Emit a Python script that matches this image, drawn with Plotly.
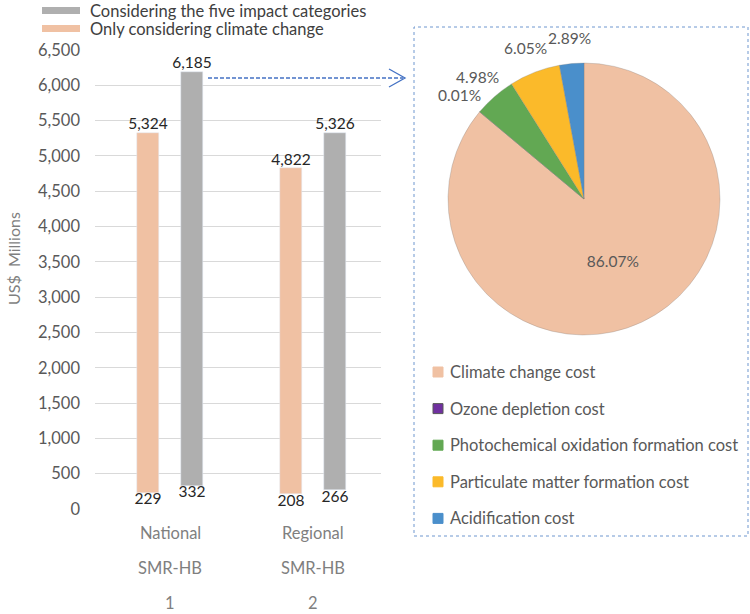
import math
import plotly.graph_objects as go

# bar chart data (US$ millions)
cases = ["National", "Regional"]
case_tech = ["SMR-HB", "SMR-HB"]
case_num = ["1", "2"]
climate_low = [229, 208]
climate_high = [5324, 4822]
five_low = [332, 266]
five_high = [6185, 5326]

# pie data (share of five-category cost, National)
pie_labels = ["Climate change cost", "Ozone depletion cost",
              "Photochemical oxidation formation cost",
              "Particulate matter formation cost", "Acidification cost"]
pie_values = [86.07, 0.01, 4.98, 6.05, 2.89]
pie_text = ["86.07%", "0.01%", "4.98%", "6.05%", "2.89%"]
pie_colors = ["#F0C1A3", "#7030A0", "#62A853", "#FBBA2A", "#4A8FCB"]

ORANGE = "#F0C1A3"
GREY = "#AFAFAF"
FONT = "Lato"
W, H = 750, 614


def px(x):
    return x / W


def py(y):
    return 1 - y / H


def note(text, x, y, size, color, xanchor="center", angle=0, xref="paper"):
    fig.add_annotation(text=text, xref=xref, yref="paper", x=x, y=y,
                       xanchor=xanchor, yanchor="middle", textangle=angle,
                       showarrow=False,
                       font=dict(family=FONT, size=size, color=color))


xi = list(range(len(cases)))
off = 0.154

fig = go.Figure()

fig.add_trace(go.Bar(
    x=[i - off for i in xi], y=[h - l for h, l in zip(climate_high, climate_low)],
    base=climate_low, width=0.154, marker_color=ORANGE, showlegend=False,
))
fig.add_trace(go.Bar(
    x=[i + off for i in xi], y=[h - l for h, l in zip(five_high, five_low)],
    base=five_low, width=0.154, marker_color=GREY, showlegend=False,
))

# value labels at top and bottom of the floating bars
for sgn, lo, hi in [(-1, climate_low, climate_high), (1, five_low, five_high)]:
    xs = [i + sgn * off for i in xi]
    fig.add_trace(go.Scatter(
        x=xs, y=hi, mode="text", text=[f"{v:,}" for v in hi],
        textposition="top center", showlegend=False, cliponaxis=False,
        textfont=dict(family=FONT, size=15.5, color="#262626"),
    ))
    fig.add_trace(go.Scatter(
        x=xs, y=lo, mode="text", text=[f"{v:,}" for v in lo],
        textposition="bottom center", showlegend=False, cliponaxis=False,
        textfont=dict(family=FONT, size=15.5, color="#262626"),
    ))

# pie: centre and radius in pixels
PCX, PCY, PR = 584, 199, 136
fig.add_trace(go.Pie(
    labels=pie_labels, values=pie_values, text=pie_text, textinfo="text",
    sort=False, direction="clockwise", rotation=0,
    marker=dict(colors=pie_colors, line=dict(color="#7F7F7F", width=0.3)),
    textposition=["inside", "none", "none", "none", "none"],
    textfont=dict(family=FONT, size=15.5, color="#595959"),
    insidetextorientation="horizontal", automargin=False,
    domain=dict(x=[px(PCX - PR), px(PCX + PR)], y=[py(PCY + PR), py(PCY - PR)]),
    showlegend=False, hoverinfo="label+percent",
))

fig.update_layout(
    width=W, height=H,
    margin=dict(l=0, r=0, t=0, b=0, autoexpand=False),
    plot_bgcolor="white", paper_bgcolor="white",
    font=dict(family=FONT, color="#595959"),
    showlegend=False,
    xaxis=dict(domain=[px(95), px(381)], range=[-0.525, 1.475],
               showticklabels=False, showgrid=False, zeroline=False,
               automargin=False),
    yaxis=dict(domain=[py(509), py(50)], range=[0, 6500], dtick=500,
               tickformat=",", gridcolor="#D9D9D9", zeroline=False,
               tickfont=dict(family=FONT, size=16.5, color="#595959"),
               ticks="", ticklabelstandoff=14, automargin=False),
    bargap=0,
)

# outside labels for the small slices, placed along each slice's mid angle
total = sum(pie_values)
cum = 0
for k, (v, t) in enumerate(zip(pie_values, pie_text)):
    mid = (cum + v / 2) / total * 2 * math.pi
    cum += v
    if k == 0:
        continue
    r = PR * 1.19
    note(t, px(PCX + r * math.sin(mid)), py(PCY - r * math.cos(mid)),
         15.5, "#595959")

# y-axis title
note("US$  Millions", px(13), py(259), 16, "#7F7F7F", angle=-90)

# category labels on three rows
for row, labels in zip([533, 568, 603], [cases, case_tech, case_num]):
    for i, lab in zip(xi, labels):
        note(lab, i, py(row), 16.5, "#7F7F7F", xref="x")

# bar legend
for ytop, col, lab in [(7, GREY, "Considering the five impact categories"),
                       (25, ORANGE, "Only considering climate change")]:
    fig.add_shape(type="rect", xref="paper", yref="paper",
                  x0=px(42), x1=px(80), y0=py(ytop), y1=py(ytop + 7),
                  fillcolor=col, line_width=0)
    note(lab, px(88), py(ytop + 3.5), 16.5, "#404040", xanchor="left")

# dotted box around pie panel
fig.add_shape(type="rect", xref="paper", yref="paper",
              x0=px(414), x1=px(748), y0=py(536), y1=py(27),
              line=dict(color="#6F97CF", width=1, dash="dot"))

# dashed arrow from bar to pie
fig.add_shape(type="line", xref="paper", yref="paper",
              x0=px(208), x1=px(403), y0=py(78), y1=py(78),
              line=dict(color="#4472C4", width=1.3, dash="4px,2px"))
fig.add_shape(type="path", xref="paper", yref="paper",
              path=f"M{px(389)},{py(69)} L{px(405)},{py(78)} L{px(389)},{py(87)}",
              line=dict(color="#4472C4", width=1.3))

# pie legend
for k, (lab, col) in enumerate(zip(pie_labels, pie_colors)):
    yc = 372 + k * 36.6
    fig.add_shape(type="rect", xref="paper", yref="paper",
                  x0=px(433), x1=px(443), y0=py(yc + 5), y1=py(yc - 5),
                  fillcolor=col, line=dict(color="#595959" if k == 1 else col, width=1))
    note(lab, px(448), py(yc), 16.5, "#595959", xanchor="left")

fig.write_html("out.html", config={"displayModeBar": False},
               post_script="document.body.style.margin='0px';")
